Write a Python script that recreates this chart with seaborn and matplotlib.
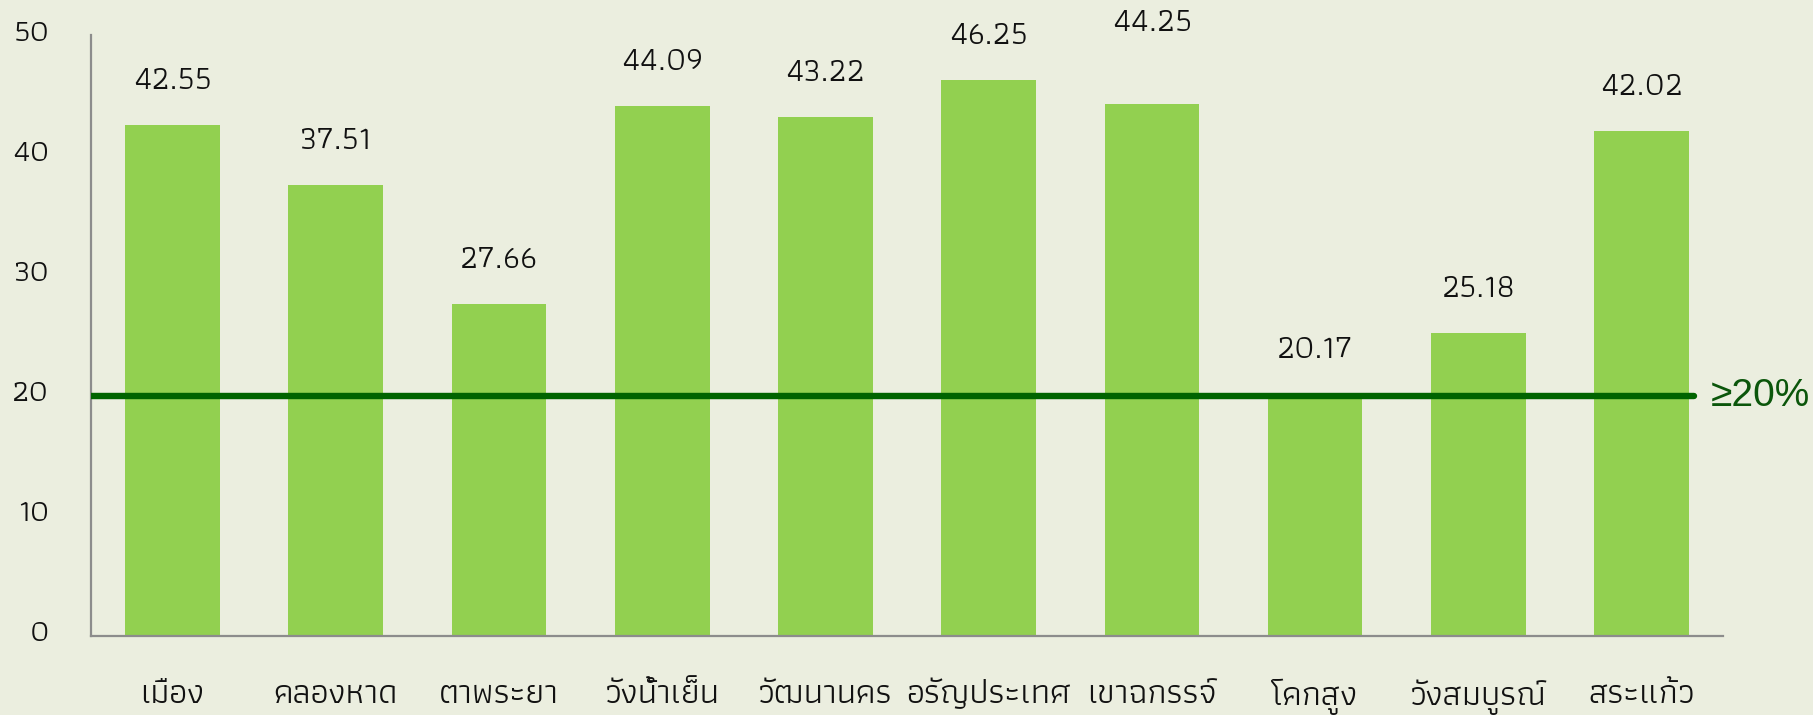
import matplotlib
matplotlib.use("Agg")
import matplotlib.pyplot as plt
from matplotlib.transforms import ScaledTranslation
import seaborn as sns
import pandas as pd

# Districts of Sa Kaeo province and their percentages
districts = ["เมือง", "คลองหาด", "ตาพระยา", "วังน้ำเย็น", "วัฒนานคร",
             "อรัญประเทศ", "เขาฉกรรจ์", "โคกสูง", "วังสมบูรณ์", "สระแก้ว"]
values = [42.55, 37.51, 27.66, 44.09, 43.22, 46.25, 44.25, 20.17, 25.18, 42.02]
y_ticks = [0, 10, 20, 30, 40, 50]
target = 20
target_label = "≥20%"

BG = "#EBEEDF"
BAR = "#92D050"
LINE = "#006400"
TXT = "#111111"
THAI_FONT = ["Athiti", "DejaVu Sans"]

sns.set_theme(style="white")
plt.rcParams["font.family"] = THAI_FONT

df = pd.DataFrame({"district": districts, "value": values})

fig = plt.figure(figsize=(18.13, 7.15), dpi=100, facecolor=BG)
ax = fig.add_axes([0.0502, 0.1105, 0.9002, 0.8405])
ax.set_facecolor(BG)

sns.barplot(data=df, x="district", y="value", color=BAR, saturation=1,
            width=0.58, ax=ax, linewidth=0)

ax.set_xlim(-0.5, len(districts) - 0.5)
ax.set_ylim(0, 50)
ax.set_yticks(y_ticks)
ax.set_yticklabels([str(t) for t in y_ticks])
ax.set_xlabel("")
ax.set_ylabel("")

for side in ("top", "right"):
    ax.spines[side].set_visible(False)
for side in ("left", "bottom"):
    ax.spines[side].set_color("#8C8C8C")
    ax.spines[side].set_linewidth(1.6)

ax.tick_params(axis="y", length=0, pad=30, labelsize=22.5, labelcolor=TXT)
ax.tick_params(axis="x", length=0, pad=31, labelsize=25, labelcolor=TXT)
for lab in ax.get_yticklabels():
    lab.set_transform(lab.get_transform() + ScaledTranslation(0, 0.05, fig.dpi_scale_trans))

# Value labels above each bar (one label lifted a bit higher)
extra_lift = {"เขาฉกรรจ์": 3.1}
for i, (name, v) in enumerate(zip(districts, values)):
    ax.text(i, v + 3.7 + extra_lift.get(name, 0), f"{v:.2f}", ha="center", va="center",
            fontsize=23.5, color=TXT)

# Target line
ax.axhline(target, xmin=0, xmax=0.982, color=LINE, linewidth=4.6, zorder=5)
ax.text(0.9926, target, target_label, transform=ax.get_yaxis_transform(),
        ha="left", va="center", fontsize=28, color="#0B560B",
        family=["Liberation Sans", "DejaVu Sans"], clip_on=False)

fig.savefig("out.png", dpi=100, facecolor=BG)
